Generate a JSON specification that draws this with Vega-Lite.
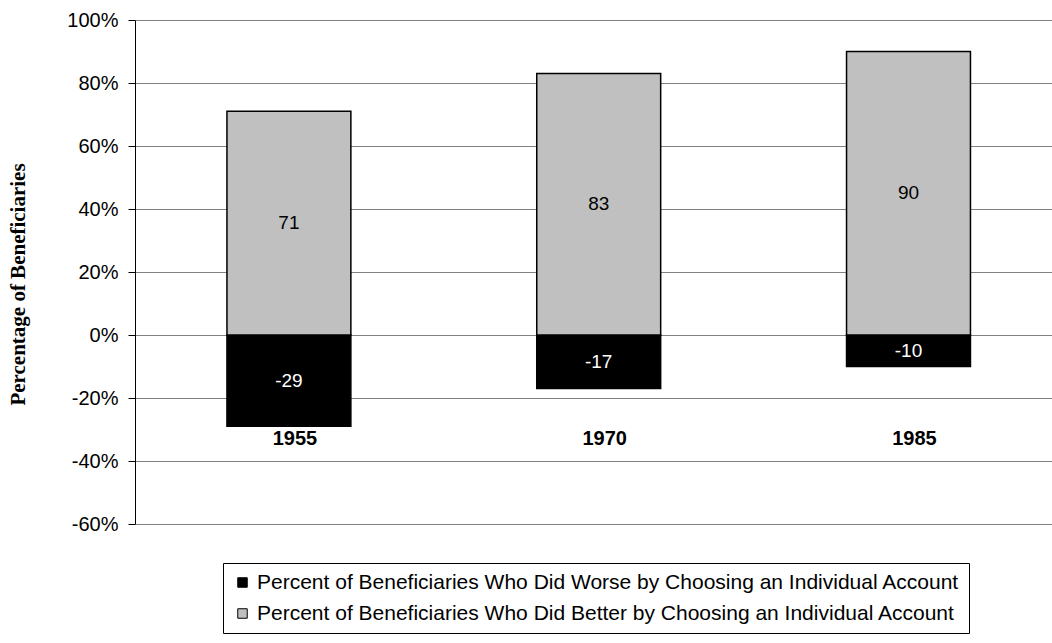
{
  "$schema": "https://vega.github.io/schema/vega-lite/v6.json",
  "width": 917,
  "height": 504,
  "autosize": {"type": "none"},
  "padding": {"left": 135, "top": 20, "right": 0, "bottom": 119},
  "background": "white",
  "config": {"view": {"stroke": null}, "font": "Liberation Sans"},
  "data": {
    "values": [
      {"year": "1955", "series": "Percent of Beneficiaries Who Did Worse by Choosing an Individual Account", "value": -29},
      {"year": "1955", "series": "Percent of Beneficiaries Who Did Better by Choosing an Individual Account", "value": 71},
      {"year": "1970", "series": "Percent of Beneficiaries Who Did Worse by Choosing an Individual Account", "value": -17},
      {"year": "1970", "series": "Percent of Beneficiaries Who Did Better by Choosing an Individual Account", "value": 83},
      {"year": "1985", "series": "Percent of Beneficiaries Who Did Worse by Choosing an Individual Account", "value": -10},
      {"year": "1985", "series": "Percent of Beneficiaries Who Did Better by Choosing an Individual Account", "value": 90}
    ]
  },
  "encoding": {
    "x": {
      "field": "year",
      "type": "nominal",
      "scale": {"paddingInner": 0.6, "paddingOuter": 0.28, "align": 0.53},
      "axis": null
    }
  },
  "layer": [
    {
      "mark": {"type": "bar", "stroke": "black", "strokeWidth": 1.5},
      "encoding": {
        "y": {
          "field": "value",
          "type": "quantitative",
          "stack": null,
          "scale": {"domain": [-60, 100], "nice": false, "zero": false},
          "axis": {
            "values": [-60, -40, -20, 0, 20, 40, 60, 80, 100],
            "labelExpr": "datum.value + '%'",
            "grid": true,
            "gridColor": "#808080",
            "gridWidth": 1,
            "domainColor": "#000000",
            "tickColor": "#000000",
            "tickSize": 7,
            "labelFontSize": 20,
            "labelColor": "#000000",
            "labelPadding": 10,
            "title": "Percentage of Beneficiaries",
            "titleFont": "Liberation Serif",
            "titleFontWeight": "bold",
            "titleFontSize": 21,
            "titleColor": "#000000",
            "titleX": -117,
            "titleY": 264,
            "titleAngle": -90,
            "titleAlign": "center",
            "titleBaseline": "middle"
          }
        },
        "color": {
          "field": "series",
          "type": "nominal",
          "scale": {
            "domain": [
              "Percent of Beneficiaries Who Did Worse by Choosing an Individual Account",
              "Percent of Beneficiaries Who Did Better by Choosing an Individual Account"
            ],
            "range": ["#000000", "#C0C0C0"]
          },
          "legend": {
            "title": null,
            "orient": "none",
            "legendX": 88,
            "legendY": 543,
            "direction": "vertical",
            "strokeColor": "#000000",
            "fillColor": "#ffffff",
            "padding": 9,
            "labelFontSize": 21,
            "labelColor": "#000000",
            "labelLimit": 0,
            "labelOffset": 4,
            "symbolType": "square",
            "symbolSize": 90,
            "symbolStrokeColor": "#000000",
            "symbolStrokeWidth": 1,
            "symbolOpacity": 1,
            "rowPadding": 9
          }
        }
      }
    },
    {
      "transform": [{"calculate": "datum.value / 2", "as": "mid"}],
      "mark": {"type": "text", "fontSize": 19, "baseline": "middle", "align": "center"},
      "encoding": {
        "y": {"field": "mid", "type": "quantitative"},
        "text": {"field": "value", "type": "nominal"},
        "color": {"condition": {"test": "datum.value < 0", "value": "#ffffff"}, "value": "#000000"}
      }
    },
    {
      "transform": [{"filter": "datum.value > 0"}],
      "mark": {"type": "text", "fontSize": 20, "fontWeight": "bold", "baseline": "middle", "align": "center", "dx": 6, "color": "#000000"},
      "encoding": {
        "y": {"datum": -33},
        "text": {"field": "year", "type": "nominal"}
      }
    }
  ]
}
